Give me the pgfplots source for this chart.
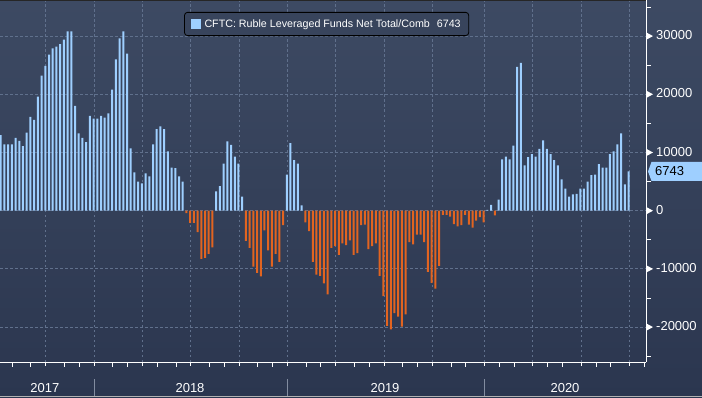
\documentclass[border=0pt]{standalone}
\usepackage{pgfplots}
\pgfplotsset{compat=1.18}
\usepackage{pgfplotstable}
\usepackage{fontspec}
\setmainfont{Liberation Sans}
\definecolor{bgtop}{RGB}{61,74,99}
\definecolor{bgbot}{RGB}{43,54,79}
\definecolor{legbg}{RGB}{56,68,92}
\definecolor{barblue}{RGB}{158,207,255}
\definecolor{barorange}{RGB}{226,100,32}
\definecolor{gridc}{RGB}{96,112,140}
\definecolor{sepc}{RGB}{130,140,160}
\newcommand{\lblfont}{\fontsize{13}{15}\selectfont}

\pgfplotstableread{
n v
1 13000
2 11400
3 11400
4 11400
5 12500
6 12000
7 11100
8 13400
9 16100
10 15600
11 19600
12 23200
13 24900
14 26800
15 27900
16 28200
17 28600
18 29400
19 30800
20 30800
21 18000
22 13300
23 12500
24 11800
25 16300
26 15800
27 15800
28 16300
29 16000
30 16700
31 20800
32 26000
33 29600
34 30800
35 27000
36 10700
37 6600
38 5000
39 4700
40 6400
41 5900
42 11400
43 14000
44 14500
45 14000
46 10200
47 7400
48 7300
49 5900
50 5000
51 -400
52 -2100
53 -2100
54 -3700
55 -8300
56 -8100
57 -7400
58 -6300
59 3300
60 4200
61 8100
62 11900
63 11300
64 9300
65 8100
66 2400
67 -5200
68 -6400
69 -9600
70 -10700
71 -11300
72 -3400
73 -6800
74 -9600
75 -7400
76 -8800
77 -2500
78 6200
79 11600
80 8700
81 8100
82 900
83 -2000
84 -3500
85 -8800
86 -11000
87 -11200
88 -12500
89 -14400
90 -6400
91 -6100
92 -7600
93 -5600
94 -5900
95 -5100
96 -7600
97 -7300
98 -2500
99 -2400
100 -6600
101 -6100
102 -5600
103 -11200
104 -14700
105 -19800
106 -20400
107 -17600
108 -18200
109 -19900
110 -17800
111 -5400
112 -5800
113 -4100
114 -4100
115 -5400
116 -10500
117 -12400
118 -13400
119 -9500
120 -700
121 -700
122 -1000
123 -2300
124 -2700
125 -2500
126 -700
127 -2400
128 -2900
129 -1700
130 -1100
131 -2000
132 150
133 1000
134 -800
135 1900
136 8800
137 9300
138 8800
139 11200
140 24700
141 25400
142 7800
143 9200
144 9700
145 9300
146 10600
147 12100
148 10600
149 9700
150 8700
151 7800
152 5400
153 3800
154 2400
155 2800
156 2900
157 3800
158 3800
159 5000
160 6100
161 6200
162 8000
163 7400
164 7400
165 9700
166 10200
167 11400
168 13300
169 4500
170 6743
}\cftc

\begin{document}
\begin{tikzpicture}
\useasboundingbox (0,0) rectangle (702pt,397pt);
\shade[top color=bgtop, bottom color=bgbot] (0,0) rectangle (702pt,397pt);
\begin{axis}[
  at={(0pt,35pt)}, anchor=south west,
  scale only axis, width=646pt, height=362pt,
  xmin=0.81, xmax=174.7, ymin=-26000, ymax=36200,
  clip=false,
  axis x line*=bottom, axis y line*=right,
  axis line style={white, line width=1pt, -},
  xtick={12.92,26.19,39.12,51.96,65.23,78.15,91.07,104.26,117.18,131.17,144.10,157.39,170.21},
  minor xtick={4.23,8.97,18.12,22.16,31.15,35.08,43.15,48.19,57.15,61.19,70.07,74.22,83.37,87.14,96.24,100.22,109.10,113.14,122.21,126.06,135.21,139.25,148.13,152.17,161.43,165.20,174.24},
  xticklabels={},
  ytick={-20000,-10000,0,10000,20000,30000},
  minor ytick={-25000,-15000,-5000,5000,15000,25000,35000},
  yticklabels={-20000,-10000,0,10000,20000,30000},
  scaled y ticks=false,
  yticklabel style={anchor=base west, inner sep=0pt, xshift=6pt, yshift=-0.36em, text=white, font=\lblfont},
  tick align=outside,
  major tick length=4pt, minor tick length=4.5pt,
  tick style={white, line width=0.9pt},
  xmajorgrids, ymajorgrids,
  grid style={gridc, dash pattern=on 2.5pt off 2.5pt, line width=0.8pt},
  ybar, bar width=2pt, bar shift=0pt,
  legend style={at={(0.285,0.967)}, anchor=north west, fill=legbg, draw=black, line width=0.8pt,
    rounded corners=3pt, text=white, font=\fontsize{10.7}{12}\selectfont,
    inner xsep=6pt, inner ysep=5pt},
  legend image code/.code={\fill[barblue, sharp corners] (0pt,-5pt) rectangle (10pt,5pt); \path (12pt,0pt);},
]
\addplot[fill=barblue, draw=none, restrict y to domain=0:50000] table[x=n, y=v] {\cftc};
\addlegendentry{CFTC: Ruble Leveraged Funds Net Total/Comb\hspace{7pt}6743}
\addplot[fill=barorange, draw=none, restrict y to domain=-50000:0, forget plot] table[x=n, y=v] {\cftc};

% tick triangles on the right axis
\fill[white] ([yshift=-3.8pt]axis cs:174.7,30000) -- ([xshift=7pt]axis cs:174.7,30000) -- ([yshift=3.8pt]axis cs:174.7,30000) -- cycle;
\fill[white] ([yshift=-3.8pt]axis cs:174.7,20000) -- ([xshift=7pt]axis cs:174.7,20000) -- ([yshift=3.8pt]axis cs:174.7,20000) -- cycle;
\fill[white] ([yshift=-3.8pt]axis cs:174.7,10000) -- ([xshift=7pt]axis cs:174.7,10000) -- ([yshift=3.8pt]axis cs:174.7,10000) -- cycle;
\fill[white] ([yshift=-3.8pt]axis cs:174.7,0) -- ([xshift=7pt]axis cs:174.7,0) -- ([yshift=3.8pt]axis cs:174.7,0) -- cycle;
\fill[white] ([yshift=-3.8pt]axis cs:174.7,-10000) -- ([xshift=7pt]axis cs:174.7,-10000) -- ([yshift=3.8pt]axis cs:174.7,-10000) -- cycle;
\fill[white] ([yshift=-3.8pt]axis cs:174.7,-20000) -- ([xshift=7pt]axis cs:174.7,-20000) -- ([yshift=3.8pt]axis cs:174.7,-20000) -- cycle;

\node[text=white, font=\lblfont] at (axis cs:12.9,-26000) [yshift=-26pt] {2017};
\node[text=white, font=\lblfont] at (axis cs:51.96,-26000) [yshift=-26pt] {2018};
\node[text=white, font=\lblfont] at (axis cs:104.45,-26000) [yshift=-26pt] {2019};
\node[text=white, font=\lblfont] at (axis cs:152.9,-26000) [yshift=-26pt] {2020};
\draw[sepc, line width=0.8pt] ([yshift=-17pt]axis cs:26.19,-26000) -- ([yshift=-35pt]axis cs:26.19,-26000);
\draw[sepc, line width=0.8pt] ([yshift=-17pt]axis cs:78.15,-26000) -- ([yshift=-35pt]axis cs:78.15,-26000);
\draw[sepc, line width=0.8pt] ([yshift=-17pt]axis cs:131.17,-26000) -- ([yshift=-35pt]axis cs:131.17,-26000);

\fill[barblue] ([xshift=2pt]axis cs:174.7,6743) -- ([xshift=5.5pt,yshift=9.5pt]axis cs:174.7,6743) -- ([xshift=60pt,yshift=9.5pt]axis cs:174.7,6743) -- ([xshift=60pt,yshift=-9.5pt]axis cs:174.7,6743) -- ([xshift=5.5pt,yshift=-9.5pt]axis cs:174.7,6743) -- cycle;
\node[anchor=base west, text=black, font=\lblfont, inner sep=0pt] at (axis cs:174.7,6743) [xshift=9pt, yshift=-0.36em] {6743};
\end{axis}
\draw[black!85, line width=1pt] (0,396.5pt) -- (646pt,396.5pt);
\draw[gray!60, line width=1pt] (0,0.5pt) -- (702pt,0.5pt);
\end{tikzpicture}
\end{document}
